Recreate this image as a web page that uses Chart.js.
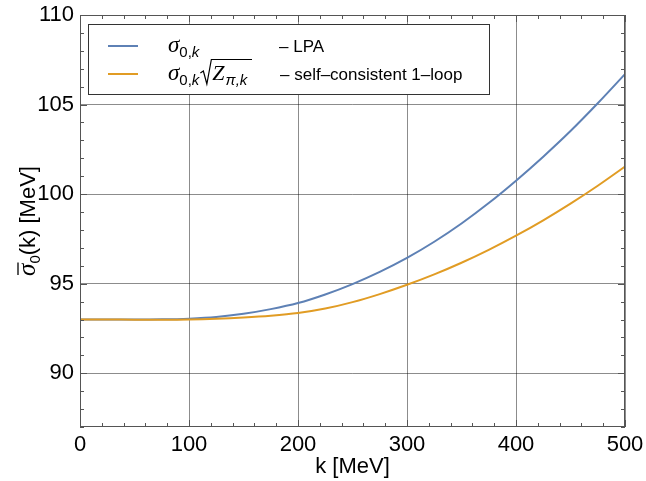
<!DOCTYPE html>
<html>
<head>
<meta charset="utf-8">
<script src="https://cdn.jsdelivr.net/npm/chart.js@4.4.1/dist/chart.umd.min.js"></script>
<style>
  html, body { margin: 0; padding: 0; background: #fff; }
</style>
</head>
<body>
<canvas id="sigmaChart" width="646" height="481"></canvas>
<script>
// k grid in MeV and the two flowing condensate curves
const kValues = [0, 25, 50, 75, 100, 125, 150, 175, 200, 225, 250, 275, 300,
                 325, 350, 375, 400, 425, 450, 475, 500];
const sigmaLPA = [93.00, 93.00, 93.00, 93.01, 93.05, 93.14, 93.32, 93.58, 93.92, 94.40,
                  94.98, 95.66, 96.44, 97.34, 98.36, 99.50, 100.75, 102.09, 103.52, 105.07, 106.70];
const sigmaLoop = [93.00, 93.00, 92.99, 92.99, 93.00, 93.04, 93.11, 93.21, 93.36, 93.61,
                   93.97, 94.42, 94.94, 95.52, 96.17, 96.89, 97.68, 98.54, 99.47, 100.47, 101.54];

const xTicks = [0, 100, 200, 300, 400, 500];
const yTicks = [90, 95, 100, 105, 110];

const blue = "#5e81b5";
const orange = "#e19c24";
const sans = "'Liberation Sans', Arial, sans-serif";
const serif = "'Liberation Serif', 'Times New Roman', serif";

function toPoints(ys) {
    return kValues.map((k, i) => ({ x: k, y: ys[i] }));
}

// draw a list of text runs one after another, returns end x
function drawRuns(ctx, runs, x, y) {
    runs.forEach(r => {
        ctx.font = r.font;
        ctx.fillText(r.text, x, y + (r.dy || 0));
        x += ctx.measureText(r.text).width + (r.gap || 0);
    });
    return x;
}

function runsWidth(ctx, runs) {
    let w = 0;
    runs.forEach(r => {
        ctx.font = r.font;
        w += ctx.measureText(r.text).width + (r.gap || 0);
    });
    return w;
}

const framePlugin = {
    id: "frame",
    afterDatasetsDraw(chart) {
        const ctx = chart.ctx;
        const { left, right, top, bottom } = chart.chartArea;
        const xs = chart.scales.x, ys = chart.scales.y;
        ctx.save();

        // frame
        ctx.strokeStyle = "#555";
        ctx.lineWidth = 1;
        ctx.strokeRect(left + 0.5, top + 0.5, right - left - 1, bottom - top - 1);

        // inward ticks on all four sides
        ctx.beginPath();
        for (let v = 0; v <= 500; v += 20) {
            const px = Math.round(xs.getPixelForValue(v)) + 0.5;
            const len = v % 100 === 0 ? 7 : 4;
            ctx.moveTo(px, bottom); ctx.lineTo(px, bottom - len);
            ctx.moveTo(px, top); ctx.lineTo(px, top + len);
        }
        for (let v = 87; v <= 110; v += 1) {
            const py = Math.round(ys.getPixelForValue(v)) + 0.5;
            const len = v % 5 === 0 ? 7 : 4;
            ctx.moveTo(left, py); ctx.lineTo(left + len, py);
            ctx.moveTo(right, py); ctx.lineTo(right - len, py);
        }
        ctx.stroke();

        // legend box
        const bx = 88, by = 24, bw = 401, bh = 70;
        ctx.fillStyle = "#fff";
        ctx.fillRect(bx, by, bw, bh);
        ctx.strokeStyle = "#333";
        ctx.strokeRect(bx + 0.5, by + 0.5, bw, bh);

        const rows = [
            { y: 46, color: chart.data.datasets[0].borderColor },
            { y: 74, color: chart.data.datasets[1].borderColor }
        ];
        ctx.lineWidth = 2;
        rows.forEach(r => {
            ctx.strokeStyle = r.color;
            ctx.beginPath();
            ctx.moveTo(108, r.y); ctx.lineTo(138, r.y);
            ctx.stroke();
        });

        ctx.fillStyle = "#000";
        ctx.textBaseline = "alphabetic";
        ctx.textAlign = "left";
        const sig = "italic 23px " + serif;
        const sub = "15px " + sans;
        const subI = "italic 15px " + sans;
        const label = "17px " + sans;

        // row 1: sigma_{0,k}
        drawRuns(ctx, [
            { text: "σ", font: sig, gap: 0 },
            { text: "0,", font: sub, dy: 5 },
            { text: "k", font: subI, dy: 5 }
        ], 168, 52);
        drawRuns(ctx, [{ text: "– LPA", font: label }], 279, 52);

        // row 2: sigma_{0,k} sqrt(Z_{pi,k})
        let x2 = drawRuns(ctx, [
            { text: "σ", font: sig },
            { text: "0,", font: sub, dy: 5 },
            { text: "k", font: subI, dy: 5 }
        ], 168, 80);
        ctx.strokeStyle = "#000";
        ctx.lineWidth = 1.2;
        ctx.beginPath();
        ctx.moveTo(x2 + 1, 73);
        ctx.lineTo(x2 + 4, 71);
        ctx.lineTo(x2 + 7.5, 84);
        ctx.lineTo(x2 + 12, 59.5);
        ctx.lineTo(252, 59.5);
        ctx.stroke();
        drawRuns(ctx, [
            { text: "Z", font: "italic 22px " + serif, gap: 1 },
            { text: "π,", font: subI, dy: 5 },
            { text: "k", font: subI, dy: 5 }
        ], x2 + 13, 80);
        drawRuns(ctx, [{ text: "– self–consistent 1–loop", font: label }], 280, 80);

        ctx.restore();
    },
    afterDraw(chart) {
        // rotated y axis title: overlined sigma_0(k) [MeV]
        const ctx = chart.ctx;
        const { top, bottom } = chart.chartArea;
        ctx.save();
        ctx.translate(35, (top + bottom) / 2);
        ctx.rotate(-Math.PI / 2);
        ctx.fillStyle = "#000";
        ctx.textBaseline = "alphabetic";
        const runs = [
            { text: "σ", font: "italic 25px " + serif },
            { text: "0", font: "15px " + sans, dy: 5 },
            { text: "(k) [MeV]", font: "22px " + sans }
        ];
        const total = runsWidth(ctx, runs);
        const x0 = -total / 2;
        drawRuns(ctx, runs, x0, 0);
        ctx.font = runs[0].font;
        const sw = ctx.measureText("σ").width;
        ctx.strokeStyle = "#000";
        ctx.lineWidth = 1.3;
        ctx.beginPath();
        ctx.moveTo(x0 + 1, -17);
        ctx.lineTo(x0 + sw + 1, -17);
        ctx.stroke();
        ctx.restore();
    }
};

const gridColor = "rgba(0,0,0,0.45)";

new Chart(document.getElementById("sigmaChart"), {
    type: "line",
    data: {
        datasets: [
            {
                label: "LPA",
                data: toPoints(sigmaLPA),
                borderColor: blue,
                borderWidth: 2,
                pointRadius: 0,
                cubicInterpolationMode: "monotone",
                fill: false,
                order: 2
            },
            {
                label: "self-consistent 1-loop",
                data: toPoints(sigmaLoop),
                borderColor: orange,
                borderWidth: 2,
                pointRadius: 0,
                cubicInterpolationMode: "monotone",
                fill: false,
                order: 1
            }
        ]
    },
    options: {
        animation: false,
        responsive: false,
        devicePixelRatio: 1,
        layout: { padding: { top: 15, right: 21, left: 0, bottom: 0 } },
        plugins: {
            legend: { display: false },
            tooltip: { enabled: false }
        },
        scales: {
            x: {
                type: "linear",
                min: 0,
                max: 500,
                afterBuildTicks: s => { s.ticks = xTicks.map(v => ({ value: v })); },
                afterFit: s => {
                    s.height = 54;
                    // keep the plot edges fixed regardless of label widths
                    s.paddingLeft = 0;
                    s.paddingRight = 0;
                },
                grid: { color: gridColor, lineWidth: 1, drawTicks: false },
                border: { display: false },
                ticks: { color: "#000", font: { family: sans, size: 22 }, padding: 5, maxRotation: 0 },
                title: {
                    display: true,
                    text: "k [MeV]",
                    color: "#000",
                    font: { family: sans, size: 22 },
                    padding: { top: 0, bottom: 1 }
                }
            },
            y: {
                min: 87,
                max: 110,
                afterBuildTicks: s => { s.ticks = yTicks.map(v => ({ value: v })); },
                afterFit: s => {
                    s.width = 80;
                    s.paddingTop = 0;
                    s.paddingBottom = 0;
                },
                grid: { color: gridColor, lineWidth: 1, drawTicks: false },
                border: { display: false },
                ticks: { color: "#000", font: { family: sans, size: 22 }, padding: 6 }
            }
        }
    },
    plugins: [framePlugin]
});
</script>
</body>
</html>
